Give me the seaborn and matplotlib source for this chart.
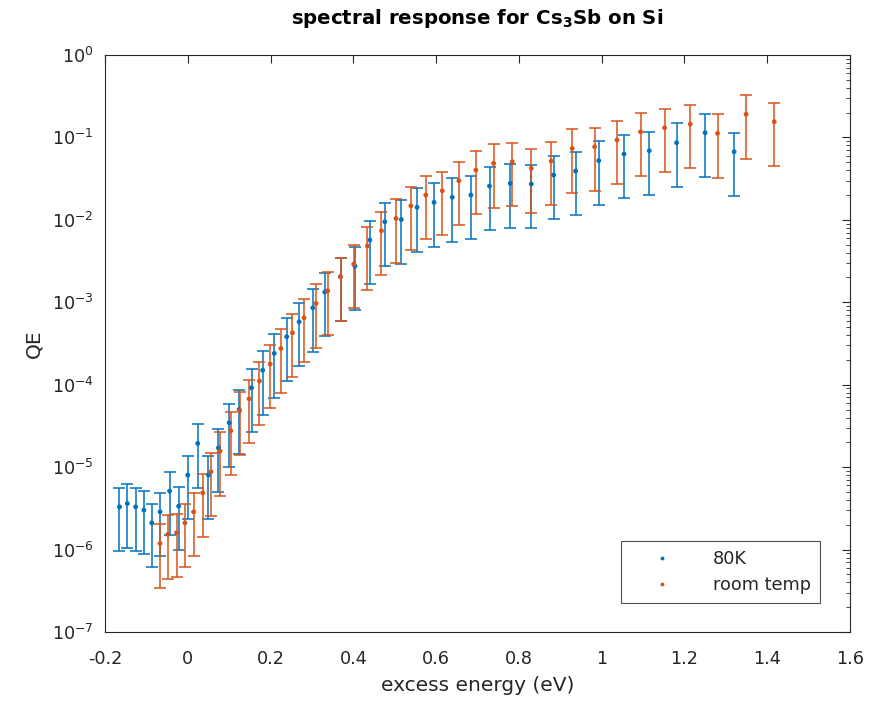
import numpy as np
import pandas as pd
import matplotlib
matplotlib.use("Agg")
import matplotlib.pyplot as plt
import matplotlib.ticker as mticker
import seaborn as sns

# ---- data ----
x_80k = [-0.165, -0.146, -0.126, -0.106, -0.087, -0.067, -0.044, -0.022, 0.000, 0.024,
         0.050, 0.074, 0.100, 0.124, 0.154, 0.181, 0.209, 0.239, 0.269, 0.302,
         0.331, 0.369, 0.404, 0.440, 0.476, 0.516, 0.554, 0.595, 0.639, 0.684,
         0.729, 0.779, 0.830, 0.884, 0.937, 0.993, 1.054, 1.115, 1.181, 1.250, 1.320]
qe_80k = [3.30e-6, 3.62e-6, 3.30e-6, 3.01e-6, 2.11e-6, 2.87e-6, 5.12e-6, 3.36e-6, 8.0e-6, 1.94e-5,
          8.0e-6, 1.71e-5, 3.45e-5, 5.0e-5, 9.18e-5, 1.50e-4, 2.40e-4, 3.82e-4, 5.80e-4, 8.57e-4,
          1.33e-3, 2.04e-3, 2.75e-3, 5.69e-3, 9.48e-3, 1.01e-2, 1.42e-2, 1.63e-2, 1.88e-2, 2.00e-2,
          2.57e-2, 2.77e-2, 2.72e-2, 3.50e-2, 3.91e-2, 5.22e-2, 6.29e-2, 6.90e-2, 8.63e-2, 0.114, 0.0671]

x_rt = [-0.067, -0.048, -0.027, -0.007, 0.014, 0.036, 0.056, 0.078, 0.104, 0.125,
        0.148, 0.173, 0.199, 0.225, 0.253, 0.281, 0.310, 0.338, 0.369, 0.401,
        0.434, 0.468, 0.503, 0.539, 0.575, 0.615, 0.655, 0.696, 0.739, 0.784,
        0.830, 0.878, 0.929, 0.983, 1.037, 1.094, 1.152, 1.214, 1.280, 1.349, 1.417]
qe_rt = [1.19e-6, 1.53e-6, 1.60e-6, 2.11e-6, 2.87e-6, 4.88e-6, 8.8e-6, 1.56e-5, 2.76e-5, 4.82e-5,
         6.74e-5, 1.11e-4, 1.78e-4, 2.75e-4, 4.27e-4, 6.49e-4, 9.69e-4, 1.38e-3, 2.04e-3, 2.91e-3,
         4.81e-3, 7.38e-3, 1.04e-2, 1.48e-2, 2.00e-2, 2.25e-2, 2.98e-2, 4.02e-2, 4.85e-2, 5.07e-2,
         4.22e-2, 5.17e-2, 7.37e-2, 7.71e-2, 9.29e-2, 0.117, 0.131, 0.145, 0.112, 0.191, 0.155]

rel_err = 0.71  # relative uncertainty
series_names = ["80K", "room temp"]
colors = ["#0072BD", "#D95319"]
x_ticks = [-0.2, 0, 0.2, 0.4, 0.6, 0.8, 1.0, 1.2, 1.4, 1.6]
x_tick_labels = ["-0.2", "0", "0.2", "0.4", "0.6", "0.8", "1", "1.2", "1.4", "1.6"]

df = pd.concat([
    pd.DataFrame({"energy": x_80k, "QE": qe_80k, "set": series_names[0]}),
    pd.DataFrame({"energy": x_rt, "QE": qe_rt, "set": series_names[1]}),
], ignore_index=True)

sns.set_style("white")
plt.rcParams["font.family"] = ["DejaVu Sans"]

fig = plt.figure(figsize=(8.73, 7.11), dpi=100)
ax = fig.add_axes([105 / 873, 1 - 632 / 711, 745 / 873, 577 / 711])

for name, col in zip(series_names, colors):
    sub = df[df["set"] == name]
    ax.errorbar(sub["energy"], sub["QE"], yerr=rel_err * sub["QE"], fmt="none",
                ecolor=col, elinewidth=1.1, capsize=4.0, capthick=1.1, zorder=2)

sns.scatterplot(data=df, x="energy", y="QE", hue="set", palette=colors,
                hue_order=series_names, s=12, marker="o", edgecolor="none",
                ax=ax, zorder=3, legend=True)

ax.set_yscale("log")
ax.set_ylim(1e-7, 1)
ax.set_xlim(-0.2, 1.6)
ax.set_xticks(x_ticks)
ax.set_xticklabels(x_tick_labels)
ax.yaxis.set_major_locator(mticker.LogLocator(base=10, numticks=20))
ax.yaxis.set_minor_locator(mticker.LogLocator(base=10, subs=np.arange(2, 10), numticks=100))
ax.yaxis.set_minor_formatter(mticker.NullFormatter())

axcol = "#262626"
for s in ax.spines.values():
    s.set_visible(True)
    s.set_color(axcol)
    s.set_linewidth(0.8)
ax.tick_params(which="both", direction="in", top=True, right=True, colors=axcol,
               labelsize=12.7, labelcolor=axcol)
ax.tick_params(which="major", length=6, width=0.8)
ax.tick_params(which="minor", length=3, width=0.6)
ax.tick_params(axis="x", pad=13)
ax.tick_params(axis="y", pad=8)

ax.set_xlabel("excess energy (eV)", fontsize=14.5, color=axcol, labelpad=6)
ax.set_ylabel("QE", fontsize=14.5, color=axcol, labelpad=6)
ax.set_title(r"spectral response for Cs$_\mathbf{3}$Sb on Si", fontsize=14.2,
             fontweight="bold", color="black", pad=22)

handles, labels = ax.get_legend_handles_labels()
leg = ax.legend(handles, labels, loc="lower right", bbox_to_anchor=(0.9597, 0.0503),
                fontsize=12.7, frameon=True, fancybox=False, edgecolor=axcol,
                handlelength=3.6, handletextpad=1.1, borderpad=0.5,
                markerscale=0.8, labelspacing=0.45, borderaxespad=0)
leg.get_frame().set_linewidth(0.8)

fig.savefig("out.png", dpi=100, facecolor="white")
